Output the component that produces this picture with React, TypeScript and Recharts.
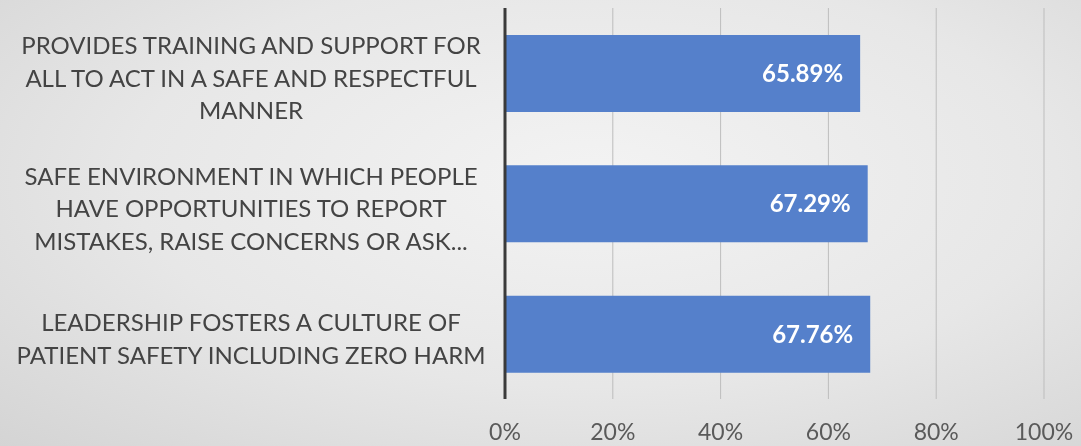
import { BarChart, Bar, XAxis, YAxis, CartesianGrid, LabelList } from 'recharts'

const categories = [
  'PROVIDES TRAINING AND SUPPORT FOR\nALL TO ACT IN A SAFE AND RESPECTFUL\nMANNER',
  'SAFE ENVIRONMENT IN WHICH PEOPLE\nHAVE OPPORTUNITIES TO REPORT\nMISTAKES, RAISE CONCERNS OR ASK...',
  'LEADERSHIP FOSTERS A CULTURE OF\nPATIENT SAFETY INCLUDING ZERO HARM',
]
const scores = [0.6589, 0.6729, 0.6776]
const xTicks = [0, 0.2, 0.4, 0.6, 0.8, 1]

const chartData = categories.map((name, i) => ({ name, score: scores[i] }))

const FONT = 'Lato, "Open Sans", sans-serif'

function CategoryTick({ y, payload }: any) {
  const lines = String(payload.value).split('\n')
  return (
    <text x={251} y={y} textAnchor="middle" fill="#444444" fontSize={24} fontFamily={FONT}>
      {lines.map((line, i) => (
        <tspan key={i} x={251} dy={i === 0 ? (-(lines.length - 1) / 2) * 32.5 + 4 : 32.5} dominantBaseline="central">
          {line}
        </tspan>
      ))}
    </text>
  )
}

function PercentTick({ x, y, payload }: any) {
  return (
    <text x={x} y={y + 33} textAnchor="middle" fill="#5a5a5a" fontSize={23} fontFamily={FONT}>
      {Math.round(payload.value * 100) + '%'}
    </text>
  )
}

export default function App() {
  return (
    <div
      style={{
        position: 'fixed',
        left: 0,
        top: 0,
        width: 1081,
        height: 446,
        background: 'radial-gradient(ellipse at 55% 40%, #f3f3f3 0%, #e7e7e7 55%, #d4d4d4 100%)',
      }}
    >
      <BarChart
        width={1081}
        height={446}
        data={chartData}
        layout="vertical"
        margin={{ top: 8, right: 37, bottom: 0, left: 0 }}
        barSize={77}
      >
        <CartesianGrid horizontal={false} stroke="#bdbdbd" verticalValues={xTicks} />
        <XAxis
          type="number"
          domain={[0, 1]}
          ticks={xTicks}
          axisLine={false}
          tickLine={false}
          height={47}
          tick={<PercentTick />}
        />
        <YAxis
          type="category"
          dataKey="name"
          width={505}
          axisLine={{ stroke: '#3a3a3a', strokeWidth: 3 }}
          tickLine={false}
          tick={<CategoryTick />}
          interval={0}
        />
        <Bar dataKey="score" fill="#5580cb" isAnimationActive={false}>
          <LabelList
            dataKey="score"
            position="insideRight"
            offset={17}
            fill="#ffffff"
            fontSize={24}
            fontWeight="bold"
            fontFamily={FONT}
            formatter={(v: any) => (Number(v) * 100).toFixed(2) + '%'}
          />
        </Bar>
      </BarChart>
    </div>
  )
}
